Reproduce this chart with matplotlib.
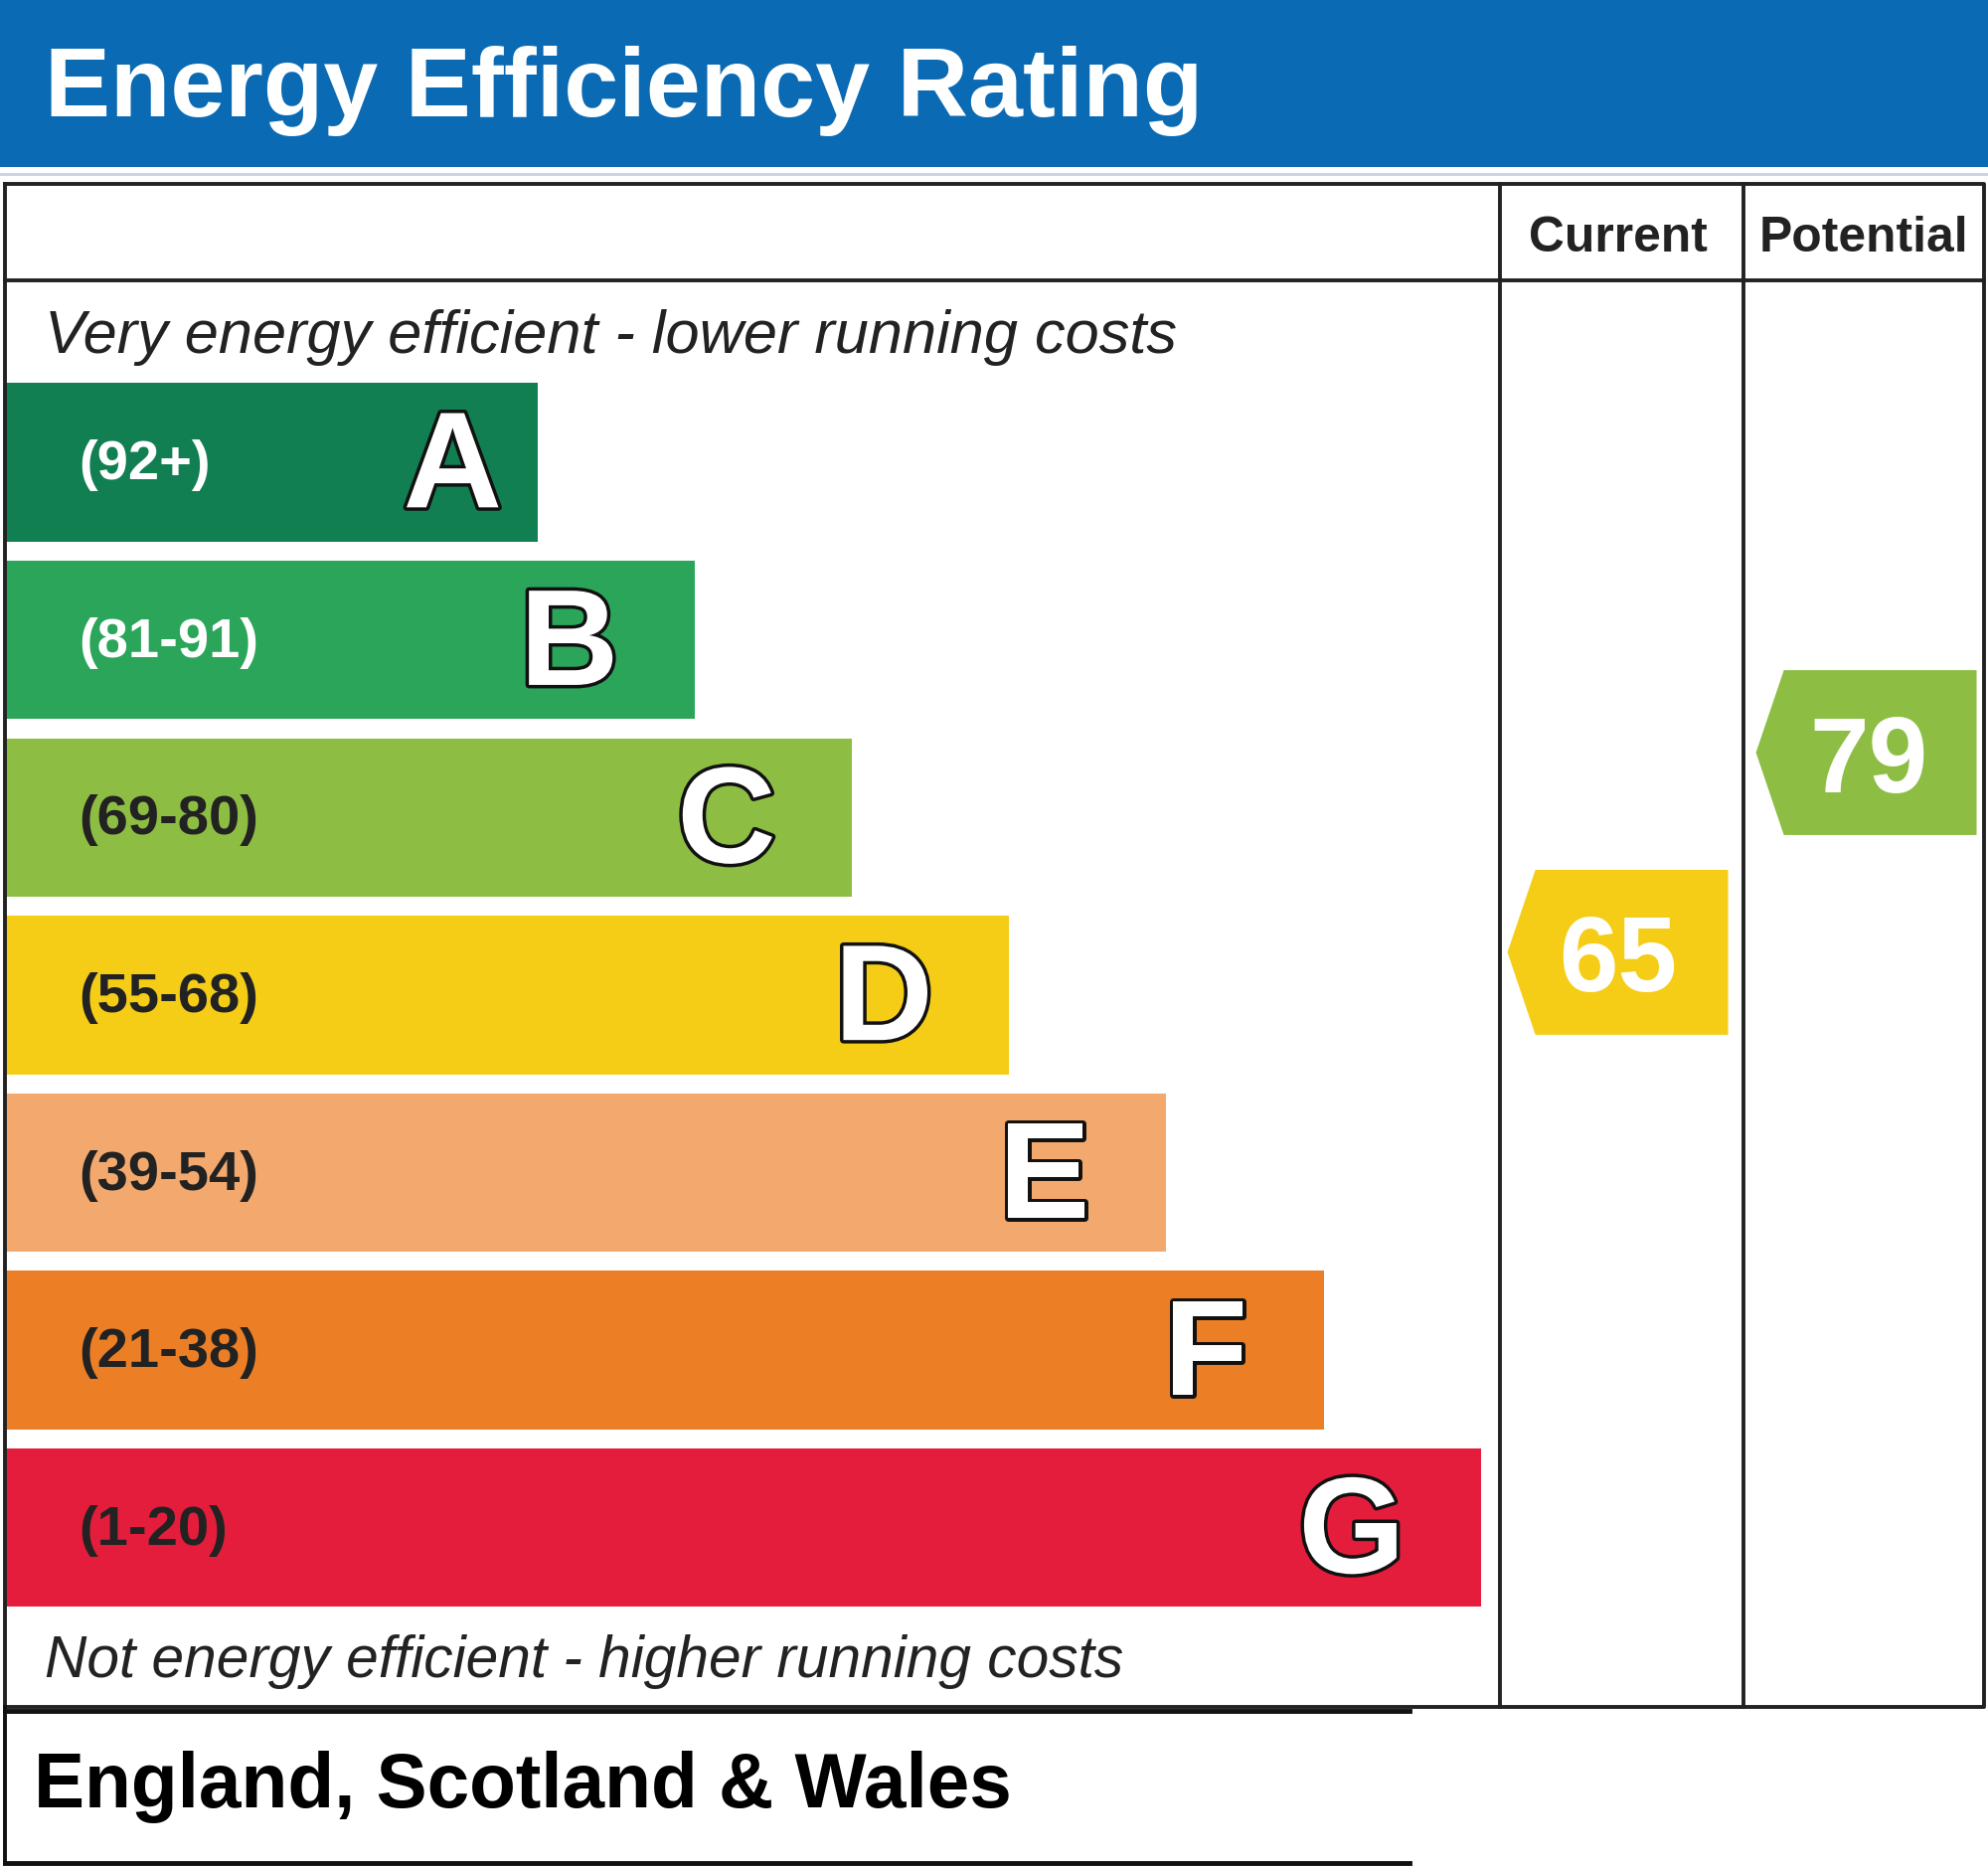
import numpy as np
import matplotlib
matplotlib.use("Agg")
import matplotlib.pyplot as plt
import matplotlib.patheffects as pe

# Energy bands, best to worst
bands = ["A", "B", "C", "D", "E", "F", "G"]
ranges = ["(92+)", "(81-91)", "(69-80)", "(55-68)", "(39-54)", "(21-38)", "(1-20)"]
band_lo = [92, 81, 69, 55, 39, 21, 1]
band_hi = [100, 91, 80, 68, 54, 38, 20]
colors = ["#127f52", "#2aa55a", "#8dbe43", "#f5cd17", "#f3a96d", "#ec7f26", "#e31d3b"]
range_text = ["white", "white", "#222222", "#222222", "#222222", "#222222", "#222222"]

current = 65
potential = 79

# canvas in reference-view units (1568 x 1472), saved at 2000 x 1878 px
W, H = 1568, 1472
S = 2000 / W
def pt(px):
    return px * S * 0.72

fig = plt.figure(figsize=(20, 18.78), dpi=100)
ax = fig.add_axes([0, 0, 1, 1])
ax.set_xlim(0, W)
ax.set_ylim(H, 0)
ax.axis("off")

font = "Liberation Sans"
lw = 2.8

# header
ax.fill_between([0, W], 0, 132, color="#0a6ab3", lw=0)
ax.text(35, 92, "Energy Efficiency Rating", color="white", fontsize=pt(77.5),
        fontweight="bold", family=font, va="baseline")
ax.plot([0, W], [137, 137], color="#c9d3e0", lw=2)

# table frame
ax.plot([4, 1565, 1565, 4, 4], [145, 145, 1346, 1346, 145], color="#222222", lw=lw)
ax.plot([4, 1565], [221, 221], color="#222222", lw=lw)
for xv in [1183, 1375]:
    ax.plot([xv, xv], [145, 1346], color="#222222", lw=lw)
ax.text(1276, 198, "Current", fontsize=pt(39), fontweight="bold", family=font,
        color="#222222", ha="center", va="baseline")
ax.text(1470, 198, "Potential", fontsize=pt(39), fontweight="bold", family=font,
        color="#222222", ha="center", va="baseline")

ax.text(35, 278, "Very energy efficient - lower running costs", fontsize=pt(48),
        style="italic", family=font, color="#222222", va="baseline")
ax.text(35, 1322, "Not energy efficient - higher running costs", fontsize=pt(46),
        style="italic", family=font, color="#222222", va="baseline")

# bands
top0, pitch, bh = 302, 140, 125
tops = top0 + pitch * np.arange(len(bands))
ends = 424 + 124 * np.arange(len(bands))
ax.barh(tops + bh / 2, ends - 4, left=4, height=bh, color=colors, lw=0)
for i, (b, r) in enumerate(zip(bands, ranges)):
    ax.text(62, tops[i] + 76, r, fontsize=pt(44), fontweight="bold", family=font,
            color=range_text[i], va="baseline")
    off = 28 if i == 0 else 60
    ax.text(ends[i] - off, tops[i] + 98, b, fontsize=pt(108), fontweight="bold",
            family=font, color="white", ha="right", va="baseline",
            path_effects=[pe.withStroke(linewidth=5, foreground="#111111")])


def arrow(score, x_tip, x_right, x_text):
    i = next(k for k in range(len(bands)) if band_lo[k] <= score <= band_hi[k])
    frac = (score - band_lo[i]) / (band_hi[i] - band_lo[i])
    yc = tops[i] + bh - frac * bh
    half = 65
    xs = [x_tip, x_tip + 22, x_right, x_right, x_tip + 22]
    ys = [yc, yc - half, yc - half, yc + half, yc + half]
    ax.fill(xs, ys, color=colors[i], lw=0)
    ax.text(x_text, yc + 31, str(score), fontsize=pt(84), fontweight="bold",
            family=font, color="white", ha="center", va="baseline")


arrow(current, 1189, 1363, 1276)
arrow(potential, 1385, 1559, 1474)

# bottom region box
ax.plot([4, 1112], [1349, 1349], color="#111111", lw=3.5)
ax.plot([4, 1112], [1469, 1469], color="#111111", lw=3.5)
ax.plot([4, 4], [1346, 1469], color="#111111", lw=lw)
ax.text(27, 1425, "England, Scotland & Wales", fontsize=pt(60), fontweight="bold",
        family=font, color="black", va="baseline")

fig.savefig("out.png", dpi=100, facecolor="white")
plt.close(fig)
